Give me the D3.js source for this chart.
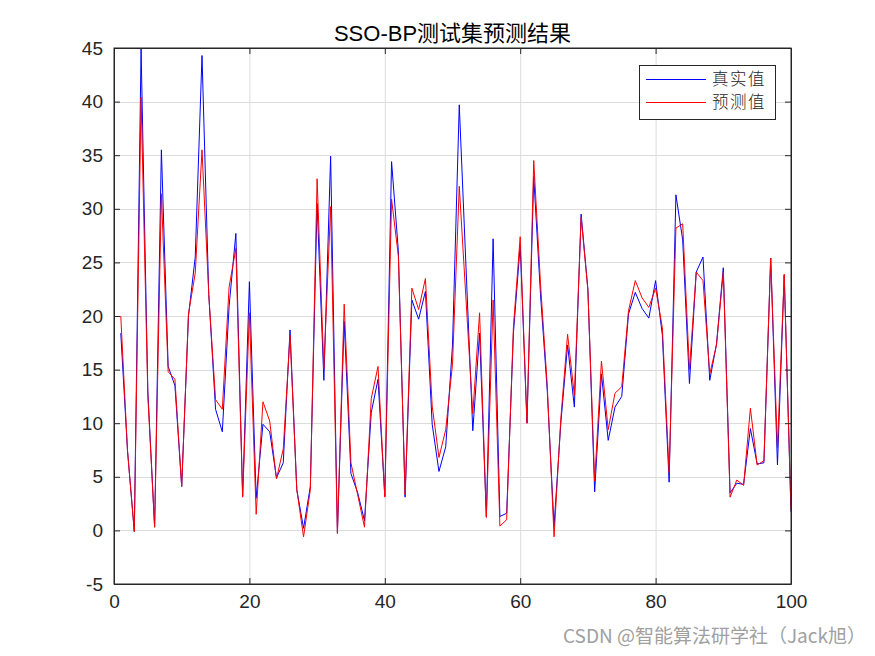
<!DOCTYPE html>
<html><head><meta charset="utf-8">
<script src="https://cdn.jsdelivr.net/npm/d3@7"></script>
<style>
html,body{margin:0;padding:0;background:#fff;}
svg{display:block;}
</style>
</head><body>
<svg id="chart" width="875" height="656"></svg>
<script>
const titleText = "SSO-BP测试集预测结果";
const legendLabels = ["真实值", "预测值"];
const xTicks = [0, 20, 40, 60, 80, 100];
const yTicks = [-5, 0, 5, 10, 15, 20, 25, 30, 35, 40, 45];
const actual = [18.4,7.4,-0.1,44.9,13,0.3,35.5,15.3,13.5,4.1,
 20.0,25.5,44.3,22,11.3,9.2,20.9,27.7,3.2,23.2,
 3.0,9.9,9.2,4.9,6.3,18.7,3.8,0.2,4.1,30.5,
 14.0,34.9,-0.2,19.5,5.3,3.5,0.9,11.0,14.1,3.2,
 34.4,26.1,3.1,21.5,19.7,22.3,9.9,5.5,7.8,17.3,
 39.7,24.5,9.3,18.4,1.3,27.2,1.3,1.6,18.4,26.6,
 10.0,33.0,22,13,0.4,10.0,17.3,11.5,29.5,22.5,
 3.6,14.6,8.4,11.5,12.5,20.2,22.2,20.7,19.8,23.3,
 18.2,4.5,31.3,27.1,13.7,24.1,25.5,14.0,17.4,24.5,
 3.5,4.4,4.3,9.5,6.2,6.3,25.4,6.1,23.8,1.7];
const predicted = [20.0,7.4,-0.1,40.4,12.5,0.3,31.4,14.8,14.1,4.1,
 20.2,24,35.5,22,12.2,11.3,22.7,26.3,3.1,20.3,
 1.5,12.0,10.2,4.8,7.6,18.2,3.8,-0.6,3.8,32.8,
 15.1,30.2,-0.3,21.1,6.3,3.3,0.3,12.3,15.3,3.1,
 30.9,25.6,3.3,22.6,20.6,23.5,11.6,6.8,9.4,15.5,
 32.1,21.5,10.9,20.3,1.2,21.5,0.4,1.0,19.0,27.4,
 10.0,34.5,23,13.5,-0.6,10.4,18.3,12.6,29.2,22.4,
 4.6,15.8,9.4,12.8,13.4,20.5,23.3,21.7,20.8,22.6,
 18.9,5.4,28.2,28.6,15.0,24.1,23.3,14.6,17.3,24.1,
 3.1,4.7,4.2,11.4,6.1,6.5,25.4,7.7,23.9,1.9];
const seriesColors = ["#0000ff", "#ff0000"];

const svg = d3.select("#chart");
const L = 114, R = 791, T = 48, B = 584;
const x = d3.scaleLinear().domain([0, 100]).range([L, R]);
const y = d3.scaleLinear().domain([-5, 45]).range([B, T]);
const font = "'Liberation Sans', Arial, sans-serif";

// grid
const g = svg.append("g");
g.selectAll(".gx").data(xTicks.filter(d => d > 0 && d < 100)).enter().append("line")
  .attr("x1", d => x(d) + 0.5).attr("x2", d => x(d) + 0.5).attr("y1", T).attr("y2", B)
  .attr("stroke", "#dcdcdc").attr("stroke-width", 1);
g.selectAll(".gy").data(yTicks.filter(d => d > -5 && d < 45)).enter().append("line")
  .attr("y1", d => Math.round(y(d)) + 0.5).attr("y2", d => Math.round(y(d)) + 0.5).attr("x1", L).attr("x2", R)
  .attr("stroke", "#dcdcdc").attr("stroke-width", 1);

// lines
const idx = d3.range(1, actual.length + 1);
const lineGen = d3.line().x((d, i) => x(idx[i])).y(d => y(d));
[actual, predicted].forEach((s, k) => {
  svg.append("path").datum(s).attr("d", lineGen).attr("fill", "none")
    .attr("stroke", seriesColors[k]).attr("stroke-width", 1);
});

// axes
const fmt = d => String(d);
const axB = d3.axisBottom(x).tickValues(xTicks).tickSizeInner(-6).tickSizeOuter(0).tickPadding(11).tickFormat(fmt);
const axT = d3.axisTop(x).tickValues(xTicks).tickSizeInner(-6).tickSizeOuter(0).tickFormat("");
const axLf = d3.axisLeft(y).tickValues(yTicks).tickSizeInner(-6).tickSizeOuter(0).tickPadding(11).tickFormat(fmt);
const axRt = d3.axisRight(y).tickValues(yTicks).tickSizeInner(-6).tickSizeOuter(0).tickFormat("");
function style(sel) {
  sel.selectAll("path").attr("stroke", "#262626");
  sel.selectAll("line").attr("stroke", "#262626");
  sel.selectAll("text").attr("font-family", font).attr("font-size", 19).attr("fill", "#262626");
}
svg.append("g").attr("transform", `translate(0,${B})`).call(axB).call(style);
svg.append("g").attr("transform", `translate(0,${T})`).call(axT).call(style);
svg.append("g").attr("transform", `translate(${L},0)`).call(axLf).call(style);
svg.append("g").attr("transform", `translate(${R},0)`).call(axRt).call(style);
svg.append("rect").attr("x", L).attr("y", T).attr("width", R - L).attr("height", B - T)
  .attr("fill", "none").attr("stroke", "#262626").attr("stroke-width", 1);

// title
svg.append("text").attr("x", (L + R) / 2).attr("y", 41).attr("text-anchor", "middle")
  .attr("font-family", "'Liberation Sans', 'Noto Sans CJK SC', sans-serif").attr("font-size", 22)
  .attr("fill", "#000").text(titleText);

// legend
const lg = svg.append("g");
lg.append("rect").attr("x", 639.5).attr("y", 65.5).attr("width", 136).attr("height", 54)
  .attr("fill", "#fff").attr("stroke", "#262626").attr("stroke-width", 1);
legendLabels.forEach((t, i) => {
  const yy = 79 + i * 23;
  lg.append("line").attr("x1", 646).attr("x2", 706).attr("y1", yy + 0.5).attr("y2", yy + 0.5)
    .attr("stroke", seriesColors[i]).attr("stroke-width", 1);
  lg.append("text").attr("x", 712).attr("y", yy + 6).attr("font-family", "'Noto Sans CJK SC', sans-serif")
    .attr("font-size", 16.5).attr("letter-spacing", 1.5).attr("font-weight", 300).attr("fill", "#262626").text(t);
});

// watermark
svg.append("text").attr("x", 866).attr("y", 643).attr("text-anchor", "end")
  .attr("font-family", "'Noto Sans CJK SC', sans-serif").attr("font-size", 19)
  .attr("fill", "#a0a0a0").text("CSDN @智能算法研学社（Jack旭）");
</script>
</body></html>
